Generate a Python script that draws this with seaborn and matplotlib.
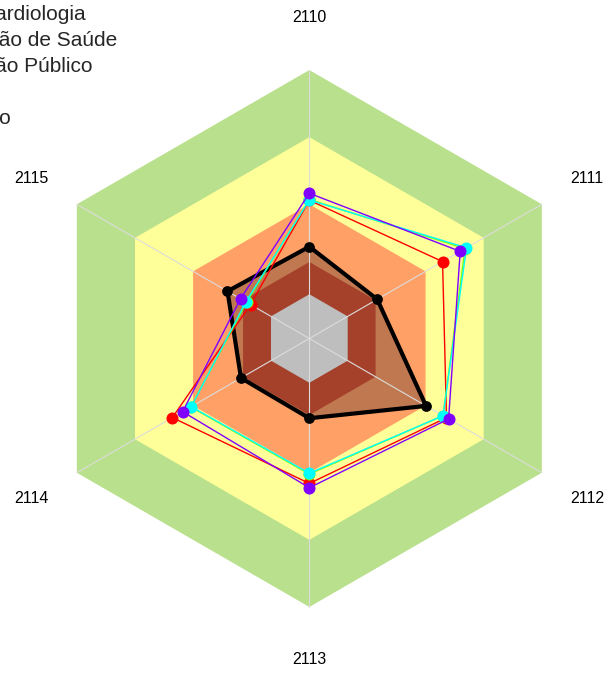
# radar chart with hexagonal bands

# -------------------- IMPORTS --------------------
import numpy as np
import pandas as pd
import matplotlib
matplotlib.use("Agg")
import matplotlib.pyplot as plt
import seaborn as sns
from matplotlib.lines import Line2D

# -------------------- DATA --------------------
axis_labels = ["2110", "2111", "2112", "2113", "2114", "2115"]

# band limits (percent of the radius), outer to inner
band_edges = [100, 75, 50, 28.5, 16.5]
band_colors = ["#B9E08C", "#FFFF99", "#FFA066", "#A5402A", "#BEBEBE"]

main_values = [34.2, 29.2, 50.2, 29.7, 29.4, 35.2]
red_values = [51.5, 57.3, 59.0, 54.0, 58.9, 25.3]
green_values = [51.8, 67.0, 57.5, 50.5, 51.0, 27.0]
cyan_values = [51.6, 67.6, 57.5, 50.2, 50.8, 27.3]
purple_values = [54.1, 64.9, 59.9, 55.6, 54.5, 29.6]

series_names = ["Hospital de Cardiologia", "Rede de Gestão de Saúde",
                "Hospital Gestão Público", "Filantrópico", "Ensino Privado"]

# -------------------- STYLE --------------------
sns.set_theme(style="white")
plt.rcParams["font.family"] = ["Liberation Sans", "DejaVu Sans"]

fig = plt.figure(figsize=(6.09, 6.73), dpi=100)
ax = fig.add_axes([0, 0, 1, 1])
ax.set_xlim(-1.152, 1.116)
ax.set_ylim(-1.246, 1.261)
ax.set_aspect("equal")
ax.axis("off")

angles = np.deg2rad(90 - 60 * np.arange(len(axis_labels)))


def to_xy(vals):
    r = np.asarray(vals, dtype=float) / 100.0
    r = np.append(r, r[0])
    a = np.append(angles, angles[0])
    return r * np.cos(a), r * np.sin(a)


def hexagon(level):
    return to_xy([level] * len(axis_labels))


# -------------------- BANDS --------------------
for edge, col in zip(band_edges[:3], band_colors[:3]):
    hx, hy = hexagon(edge)
    ax.fill(hx, hy, color=col, lw=0, zorder=1)

# filled area of the main series
mx, my = to_xy(main_values)
ax.fill(mx, my, color="#C07850", lw=0, zorder=2)

for edge, col in zip(band_edges[3:], band_colors[3:]):
    hx, hy = hexagon(edge)
    ax.fill(hx, hy, color=col, lw=0, zorder=3)

# spokes
for a in angles:
    ax.plot([0, np.cos(a)], [0, np.sin(a)], color="#DCDCDC", lw=0.8, zorder=4)

# axis labels
for a, lab in zip(angles, axis_labels):
    ax.text(1.195 * np.cos(a), 1.195 * np.sin(a), lab, ha="center", va="center",
            fontsize=11.5, color="black")

# -------------------- SERIES --------------------
sns.lineplot(x=mx, y=my, sort=False, estimator=None, color="black", lw=3,
             ax=ax, zorder=5, legend=False)
ax.scatter(mx[:-1], my[:-1], s=60, color="black", zorder=6, lw=0)

thin_series = [
    (red_values, "#FF0000"),
    (green_values, "#80FF00"),
    (cyan_values, "#00FFFF"),
    (purple_values, "#8000FF"),
]
z = 7
for vals, col in thin_series:
    x, y = to_xy(vals)
    sns.lineplot(x=x, y=y, sort=False, estimator=None, color=col, lw=1,
                 ax=ax, zorder=z, legend=False)
    ax.scatter(x[:-1], y[:-1], s=75, color=col, zorder=z + 1, lw=0)
    z += 2

# -------------------- LEGEND --------------------
legend_colors = ["black", "#FF0000", "#80FF00", "#00FFFF", "#8000FF"]
handles = [Line2D([], [], color=c, marker="o", lw=1) for c in legend_colors]
fig.legend(handles, series_names, loc="upper left",
           bbox_to_anchor=(-0.3097, 0.992), frameon=False, fontsize=15,
           handlelength=2, handletextpad=0.8, labelspacing=0.334,
           borderpad=0, borderaxespad=0)

fig.savefig("out.png", dpi=100)
